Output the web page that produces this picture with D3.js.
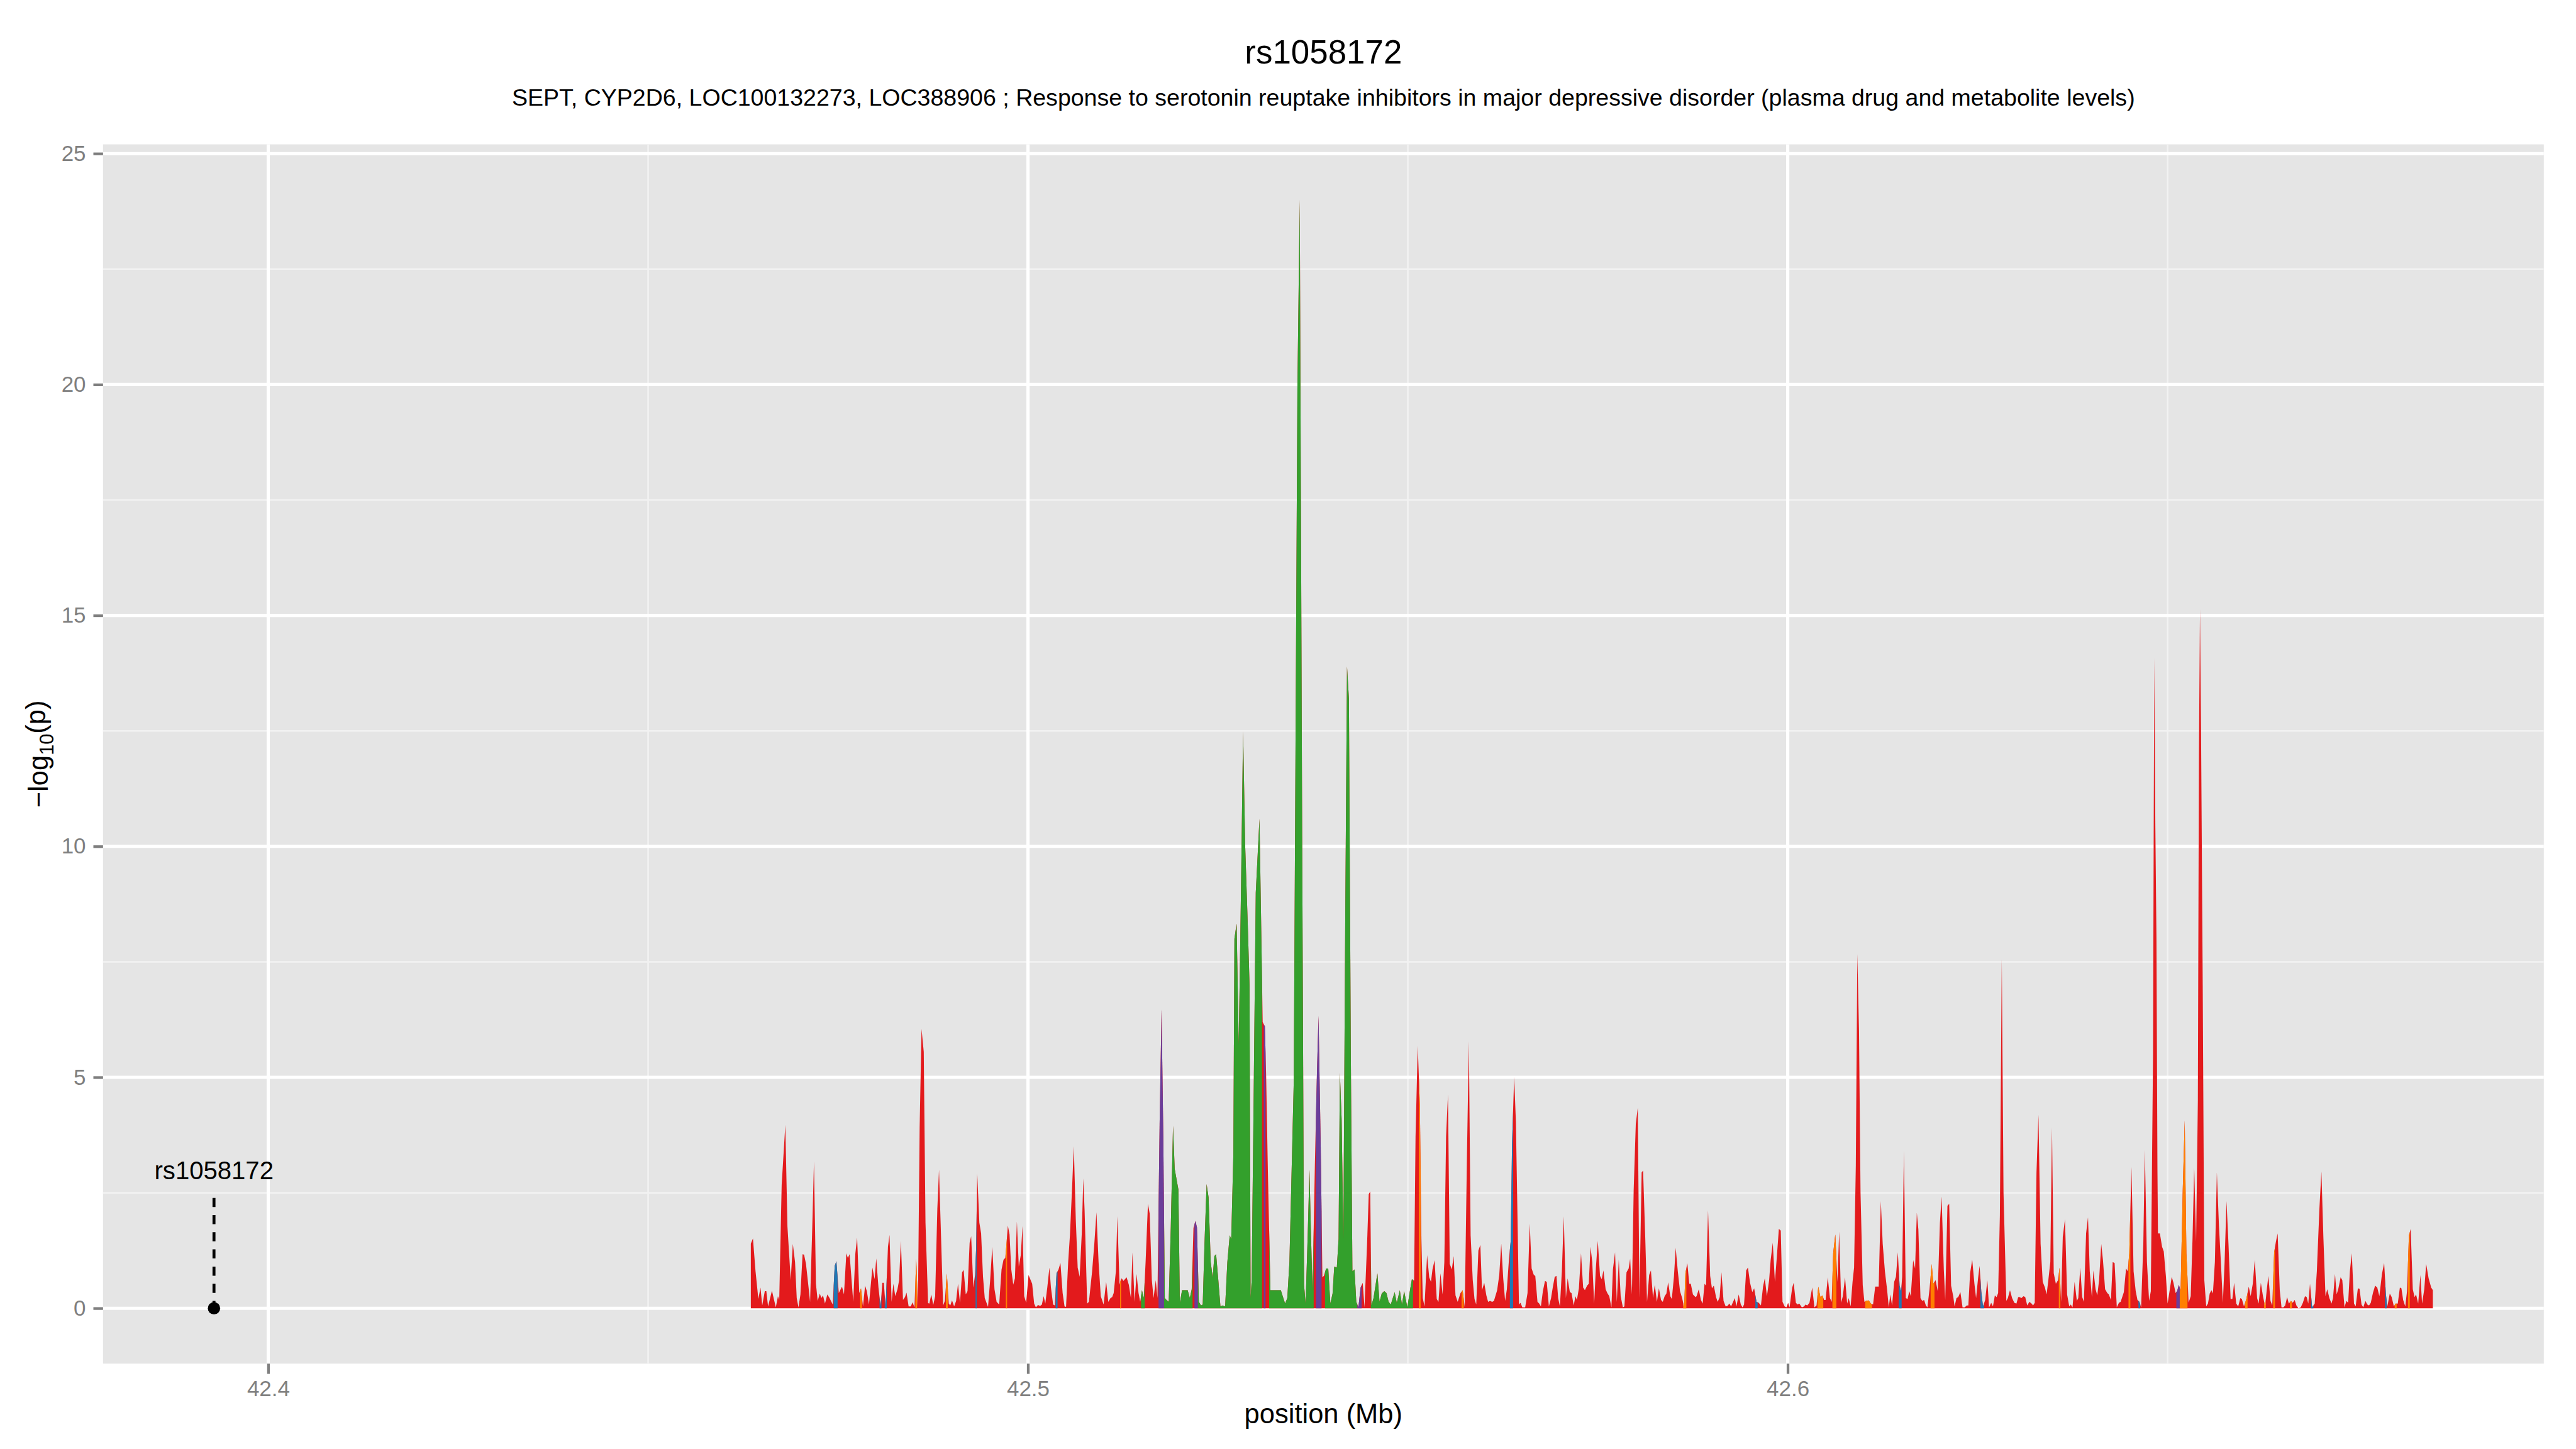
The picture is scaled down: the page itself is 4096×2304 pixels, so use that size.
<!DOCTYPE html>
<html><head><meta charset="utf-8">
<script src="https://cdn.jsdelivr.net/npm/d3@7"></script>
<style>html,body{margin:0;padding:0;background:#fff;}svg{display:block;}</style>
</head><body>
<script>
// ---------- DATA (position in Mb, -log10 p) ----------
const region1 = [[42.46352,1.40],[42.46380,1.51],[42.46414,0.80],[42.46451,0.20],[42.46479,0.45],[42.46502,0.06],[42.46536,0.37],[42.46556,0.37],[42.46579,0.04],[42.46630,0.38],[42.46658,0.18],[42.46681,0.02],[42.46709,0.26],[42.46726,0.18],[42.46758,2.67],[42.46806,3.97],[42.46834,1.77],[42.46877,0.61],[42.46905,1.39],[42.46934,1.00],[42.46956,0.22],[42.46979,0.02],[42.47005,0.30],[42.47033,1.17],[42.47053,1.16],[42.47078,0.96],[42.47112,0.45],[42.47132,0.14],[42.47161,1.77],[42.47183,3.18],[42.47209,0.53],[42.47232,0.16],[42.47260,0.32],[42.47280,0.22],[42.47302,0.28],[42.47328,0.10],[42.47359,0.30],[42.47388,0.22],[42.47430,0.08],[42.47456,0.92],[42.47478,1.02],[42.47510,0.33],[42.47552,0.47],[42.47578,0.30],[42.47609,1.19],[42.47629,1.09],[42.47652,1.17],[42.47700,0.14],[42.47728,1.19],[42.47751,1.53],[42.47779,0.33],[42.47802,0.43],[42.47828,0.04],[42.47856,0.49],[42.47879,0.37],[42.47907,0.08],[42.47952,0.88],[42.47981,0.63],[42.48003,1.08],[42.48032,0.45],[42.48060,0.04],[42.48083,0.55],[42.48103,0.55],[42.48126,0.02],[42.48157,1.33],[42.48177,1.59],[42.48205,0.14],[42.48228,0.53],[42.48253,0.26],[42.48282,0.41],[42.48304,0.61],[42.48327,1.46],[42.48355,0.18],[42.48381,0.24],[42.48401,0.34],[42.48429,0.04],[42.48458,0.04],[42.48480,0.13],[42.48506,0.02],[42.48529,1.07],[42.48551,0.02],[42.48574,3.91],[42.48599,6.05],[42.48628,5.55],[42.48651,1.85],[42.48685,0.11],[42.48702,0.10],[42.48727,0.30],[42.48753,0.07],[42.48778,0.26],[42.48807,2.16],[42.48829,3.00],[42.48855,1.58],[42.48883,0.06],[42.48906,0.16],[42.48932,0.75],[42.48957,0.10],[42.48977,0.06],[42.49000,0.17],[42.49028,0.04],[42.49054,0.16],[42.49079,0.53],[42.49105,0.12],[42.49133,0.78],[42.49153,0.83],[42.49181,0.30],[42.49204,0.37],[42.49232,1.42],[42.49252,1.56],[42.49281,0.45],[42.49303,0.72],[42.49317,1.27],[42.49332,2.92],[42.49360,1.85],[42.49383,1.62],[42.49408,0.68],[42.49431,0.22],[42.49474,0.03],[42.49502,0.61],[42.49530,1.33],[42.49559,0.41],[42.49587,0.14],[42.49621,0.08],[42.49652,0.84],[42.49678,1.05],[42.49701,1.09],[42.49715,1.35],[42.49735,1.79],[42.49757,1.60],[42.49780,0.84],[42.49806,0.51],[42.49828,0.65],[42.49854,1.88],[42.49879,0.90],[42.49905,1.15],[42.49928,1.78],[42.49950,0.26],[42.49976,0.12],[42.50007,0.72],[42.50030,0.63],[42.50055,0.53],[42.50081,0.10],[42.50104,0.02],[42.50132,0.07],[42.50160,0.05],[42.50183,0.08],[42.50206,0.26],[42.50228,0.10],[42.50254,0.45],[42.50282,0.88],[42.50302,0.45],[42.50331,0.08],[42.50353,0.06],[42.50376,0.76],[42.50402,0.84],[42.50427,0.98],[42.50456,0.33],[42.50481,0.04],[42.50501,0.03],[42.50529,1.00],[42.50552,1.58],[42.50580,2.59],[42.50603,3.51],[42.50629,1.93],[42.50654,0.88],[42.50680,0.68],[42.50708,1.62],[42.50728,2.81]];

const region2 = [[42.50745,2.12],[42.50779,0.10],[42.50802,0.14],[42.50844,0.80],[42.50873,1.39],[42.50901,2.08],[42.50929,1.00],[42.50958,0.26],[42.50995,0.08],[42.51029,0.57],[42.51057,0.14],[42.51086,0.22],[42.51108,0.24],[42.51128,0.33],[42.51157,0.80],[42.51176,1.99],[42.51205,0.51],[42.51219,0.60],[42.51233,0.65],[42.51256,0.59],[42.51298,0.67],[42.51327,0.51],[42.51355,0.22],[42.51375,1.21],[42.51403,0.14],[42.51429,0.74],[42.51455,0.33],[42.51477,0.14],[42.51500,0.39],[42.51525,0.22],[42.51548,1.00],[42.51579,2.26],[42.51602,2.05],[42.51630,0.61],[42.51653,0.22],[42.51682,0.61],[42.51704,0.22],[42.51733,4.03],[42.51758,6.47],[42.51781,3.72],[42.51801,0.22],[42.51823,0.18],[42.51852,0.14],[42.51880,1.77],[42.51909,3.95],[42.51931,3.02],[42.51960,2.75],[42.51980,2.57],[42.51999,0.12],[42.52028,0.39],[42.52102,0.39],[42.52130,0.22],[42.52155,0.41],[42.52178,1.74],[42.52204,1.89],[42.52224,1.75],[42.52249,0.14],[42.52278,0.06],[42.52300,0.08],[42.52323,1.39],[42.52351,2.69],[42.52377,2.40],[42.52405,1.00],[42.52431,0.67],[42.52453,1.13],[42.52476,1.17],[42.52505,0.61],[42.52533,0.04],[42.52561,0.06],[42.52595,0.04],[42.52624,1.00],[42.52655,1.58],[42.52675,1.50],[42.52703,3.33],[42.52717,8.00],[42.52746,8.33],[42.52774,5.70],[42.52803,9.00],[42.52831,12.49],[42.52859,10.00],[42.52893,8.30],[42.52916,7.00],[42.52930,0.22],[42.52944,0.61],[42.52973,5.00],[42.52998,9.00],[42.53047,10.60],[42.53072,8.00],[42.53089,6.20],[42.53118,6.10],[42.53135,5.00],[42.53157,3.00],[42.53191,0.39],[42.53228,0.39],[42.53328,0.39],[42.53384,0.10],[42.53413,0.22],[42.53441,1.00],[42.53498,4.90],[42.53546,19.90],[42.53577,24.00],[42.53609,10.20],[42.53634,0.50],[42.53654,0.10],[42.53682,1.60],[42.53705,3.00],[42.53725,1.58],[42.53745,0.37],[42.53776,3.10],[42.53802,5.00],[42.53824,6.33],[42.53853,3.50],[42.53875,0.67],[42.53895,0.70],[42.53924,0.86],[42.53952,0.86],[42.53980,0.10],[42.54009,0.32],[42.54031,0.90],[42.54065,0.88],[42.54088,1.50],[42.54105,5.10],[42.54128,4.10],[42.54151,1.50],[42.54176,8.50],[42.54199,13.90],[42.54224,13.20],[42.54250,5.30],[42.54270,0.80],[42.54298,0.84],[42.54321,0.14],[42.54349,0.02],[42.54378,0.45],[42.54406,0.55],[42.54429,0.02],[42.54463,1.39],[42.54485,2.47],[42.54505,2.53],[42.54520,0.06],[42.54548,0.22],[42.54599,0.76],[42.54627,0.14],[42.54656,0.32],[42.54690,0.37],[42.54718,0.33],[42.54747,0.14],[42.54775,0.08],[42.54826,0.35],[42.54854,0.12],[42.54894,0.39],[42.54922,0.08],[42.54951,0.37],[42.54993,0.02],[42.55030,0.41],[42.55053,0.63],[42.55082,0.60],[42.55101,3.72],[42.55130,5.68],[42.55158,4.40],[42.55178,1.50]];

const region3 = [[42.55196,0.22],[42.55219,0.04],[42.55253,1.15],[42.55281,0.67],[42.55304,0.57],[42.55324,0.84],[42.55352,1.04],[42.55380,0.20],[42.55403,0.14],[42.55429,0.76],[42.55457,0.30],[42.55480,1.00],[42.55503,3.72],[42.55528,4.63],[42.55551,0.96],[42.55579,0.84],[42.55602,1.13],[42.55627,0.28],[42.55656,0.14],[42.55693,0.33],[42.55721,0.39],[42.55749,0.02],[42.55778,3.33],[42.55803,5.78],[42.55826,1.58],[42.55854,0.61],[42.55877,0.20],[42.55900,0.08],[42.55928,1.25],[42.55954,1.37],[42.55976,0.39],[42.56005,0.55],[42.56033,0.28],[42.56056,0.14],[42.56081,0.16],[42.56110,0.14],[42.56133,0.16],[42.56175,0.39],[42.56203,0.72],[42.56229,1.40],[42.56255,0.65],[42.56280,0.16],[42.56303,0.41],[42.56331,1.07],[42.56354,1.46],[42.56371,3.54],[42.56399,5.01],[42.56422,4.03],[42.56445,1.77],[42.56462,0.08],[42.56482,0.12],[42.56507,0.02],[42.56544,0.02],[42.56575,0.33],[42.56604,1.83],[42.56629,0.86],[42.56658,0.72],[42.56677,0.70],[42.56706,0.14],[42.56729,0.10],[42.56751,0.04],[42.56777,0.37],[42.56805,0.59],[42.56828,0.57],[42.56856,0.04],[42.56885,0.22],[42.56907,0.45],[42.56933,0.68],[42.56956,0.70],[42.56978,0.22],[42.57001,0.04],[42.57027,0.80],[42.57052,1.99],[42.57080,0.22],[42.57103,0.65],[42.57132,0.35],[42.57154,0.33],[42.57183,0.06],[42.57205,0.26],[42.57225,0.18],[42.57251,0.43],[42.57279,1.19],[42.57307,0.45],[42.57330,0.39],[42.57359,0.49],[42.57381,0.53],[42.57404,1.33],[42.57427,1.00],[42.57452,0.10],[42.57475,0.88],[42.57500,1.46],[42.57529,0.70],[42.57552,0.63],[42.57574,0.82],[42.57603,0.41],[42.57625,0.33],[42.57651,0.26],[42.57679,0.02],[42.57699,0.84],[42.57727,1.21],[42.57750,0.14],[42.57776,1.05],[42.57801,0.26],[42.57830,0.02],[42.57850,0.04],[42.57878,0.78],[42.57906,0.86],[42.57926,1.07],[42.57949,0.30],[42.57972,2.55],[42.58000,3.99],[42.58026,4.34],[42.58048,0.22],[42.58077,2.94],[42.58096,2.98],[42.58125,1.50],[42.58148,0.14],[42.58176,0.72],[42.58199,0.82],[42.58227,0.22],[42.58250,0.51],[42.58278,0.14],[42.58304,0.43],[42.58332,0.18],[42.58355,0.14],[42.58380,0.26],[42.58403,0.32],[42.58426,0.56],[42.58454,0.26],[42.58474,0.20],[42.58502,0.68],[42.58525,1.31],[42.58553,0.80],[42.58582,0.37],[42.58610,0.22],[42.58636,0.02],[42.58653,0.76],[42.58678,0.98],[42.58704,0.53],[42.58724,0.53],[42.58752,0.30],[42.58786,0.24],[42.58800,0.26],[42.58829,0.41],[42.58857,0.18],[42.58880,0.10],[42.58905,0.53],[42.58925,0.49],[42.58951,2.12],[42.58979,0.70],[42.59002,0.43],[42.59027,0.49],[42.59056,0.24],[42.59078,0.14],[42.59104,0.24],[42.59127,0.78],[42.59155,0.16],[42.59183,0.04],[42.59206,0.05],[42.59232,0.10],[42.59254,0.04],[42.59303,0.22],[42.59325,0.04],[42.59354,0.30],[42.59382,0.08],[42.59405,0.02],[42.59425,0.08],[42.59453,0.82],[42.59476,0.88],[42.59504,0.55],[42.59533,0.35],[42.59558,0.43],[42.59589,0.14],[42.59618,0.12],[42.59637,0.08]];

const region4 = [[42.59647,0.06],[42.59675,0.47],[42.59698,0.65],[42.59726,0.26],[42.59755,0.61],[42.59775,1.04],[42.59803,1.42],[42.59831,0.57],[42.59860,1.19],[42.59883,1.72],[42.59908,1.68],[42.59931,0.14],[42.59959,0.04],[42.59982,0.02],[42.60005,0.12],[42.60024,0.02],[42.60059,0.45],[42.60078,0.55],[42.60107,0.12],[42.60129,0.08],[42.60152,0.10],[42.60186,0.02],[42.60215,0.04],[42.60234,0.08],[42.60257,0.06],[42.60286,0.12],[42.60322,0.45],[42.60351,0.02],[42.60379,0.06],[42.60402,0.47],[42.60430,0.24],[42.60456,0.28],[42.60479,0.18],[42.60498,0.18],[42.60527,0.67],[42.60555,0.22],[42.60578,0.14],[42.60598,1.19],[42.60626,1.60],[42.60654,0.57],[42.60677,1.66],[42.60703,0.12],[42.60725,0.26],[42.60754,0.67],[42.60782,0.10],[42.60802,0.22],[42.60828,0.04],[42.60853,0.57],[42.60873,0.88],[42.60896,3.10],[42.60916,7.67],[42.60938,6.00],[42.60958,2.50],[42.60987,0.50],[42.61009,0.14],[42.61029,0.16],[42.61066,0.17],[42.61094,0.10],[42.61123,0.08],[42.61151,0.47],[42.61197,0.47],[42.61225,2.32],[42.61250,1.39],[42.61279,0.80],[42.61307,0.41],[42.61330,0.02],[42.61350,0.30],[42.61373,0.06],[42.61401,0.57],[42.61424,0.68],[42.61449,1.21],[42.61472,0.49],[42.61492,0.37],[42.61506,0.68],[42.61529,3.41],[42.61554,0.22],[42.61577,0.20],[42.61600,0.37],[42.61619,0.26],[42.61651,1.04],[42.61676,0.86],[42.61699,2.07],[42.61719,1.71],[42.61747,0.22],[42.61770,0.16],[42.61795,0.18],[42.61818,0.06],[42.61838,0.02],[42.61866,0.41],[42.61895,0.96],[42.61917,0.53],[42.61946,0.61],[42.61974,0.37],[42.62003,1.85],[42.62025,2.42],[42.62054,0.84],[42.62073,0.18],[42.62102,2.22],[42.62125,2.26],[42.62150,0.49],[42.62178,0.26],[42.62196,0.04],[42.62221,0.22],[42.62244,0.24],[42.62272,0.35],[42.62301,0.02],[42.62329,0.02],[42.62357,0.06],[42.62377,0.06],[42.62400,0.76],[42.62428,1.05],[42.62457,0.53],[42.62479,0.22],[42.62505,0.65],[42.62525,0.92],[42.62547,0.37],[42.62570,0.04],[42.62599,0.18],[42.62627,0.61],[42.62650,0.02],[42.62678,0.12],[42.62701,0.04],[42.62726,0.28],[42.62749,0.24],[42.62769,0.33],[42.62792,2.00],[42.62817,7.56],[42.62840,2.50],[42.62877,0.16],[42.62897,0.22],[42.62925,0.39],[42.62953,0.22],[42.62982,0.12],[42.63010,0.10],[42.63033,0.24],[42.63053,0.24],[42.63075,0.22],[42.63104,0.26],[42.63126,0.24],[42.63152,0.06],[42.63180,0.14],[42.63209,0.10],[42.63229,0.06],[42.63251,0.12],[42.63274,2.94],[42.63300,4.19],[42.63328,1.39],[42.63356,0.57],[42.63385,0.45],[42.63407,0.30],[42.63430,0.61],[42.63456,1.00],[42.63478,3.91],[42.63501,0.76],[42.63529,0.53],[42.63558,0.61],[42.63578,0.88],[42.63598,0.14],[42.63620,1.54],[42.63649,1.93],[42.63677,0.30],[42.63705,0.04],[42.63725,0.08],[42.63748,0.02],[42.63776,0.57],[42.63805,0.16],[42.63824,0.22],[42.63850,0.88],[42.63876,0.24],[42.63898,0.14],[42.63927,1.62],[42.63952,1.97],[42.63975,0.80],[42.64003,0.24],[42.64023,0.82],[42.64052,0.41],[42.64074,0.28]];

const region5 = [[42.64098,0.61],[42.64126,1.39],[42.64149,1.04],[42.64177,0.41],[42.64206,0.33],[42.64226,0.30],[42.64254,0.18],[42.64277,1.00],[42.64302,0.98],[42.64331,0.02],[42.64359,0.12],[42.64382,0.14],[42.64424,0.35],[42.64453,0.86],[42.64475,0.80],[42.64495,1.19],[42.64524,3.06],[42.64552,0.80],[42.64580,0.37],[42.64603,0.18],[42.64629,0.14],[42.64651,0.02],[42.64680,1.39],[42.64700,3.43],[42.64728,1.00],[42.64756,0.16],[42.64779,0.37],[42.64808,5.50],[42.64818,11.00],[42.64825,14.08],[42.64838,10.50],[42.64853,8.00],[42.64866,3.00],[42.64873,1.62],[42.64898,1.62],[42.64927,1.33],[42.64949,1.23],[42.64978,0.68],[42.65000,0.10],[42.65029,0.41],[42.65054,0.68],[42.65077,0.55],[42.65105,0.33],[42.65125,0.37],[42.65148,0.51],[42.65171,0.37],[42.65199,2.55],[42.65225,4.07],[42.65247,1.19],[42.65276,0.12],[42.65304,0.26],[42.65327,1.46],[42.65350,3.04],[42.65375,1.44],[42.65398,4.50],[42.65412,12.00],[42.65426,15.13],[42.65440,12.50],[42.65462,7.00],[42.65483,0.61],[42.65508,0.04],[42.65531,0.10],[42.65554,0.32],[42.65577,0.39],[42.65596,0.32],[42.65622,1.00],[42.65648,2.94],[42.65676,1.77],[42.65701,1.00],[42.65727,0.12],[42.65750,1.00],[42.65775,2.32],[42.65801,1.39],[42.65829,0.20],[42.65852,0.20],[42.65875,0.55],[42.65903,0.10],[42.65929,0.04],[42.65957,0.22],[42.65977,0.20],[42.66005,0.04],[42.66036,0.20],[42.66068,0.47],[42.66093,0.26],[42.66121,0.53],[42.66147,1.05],[42.66178,0.22],[42.66198,0.10],[42.66227,0.55],[42.66255,0.26],[42.66283,0.04],[42.66303,0.37],[42.66326,0.70],[42.66354,0.16],[42.66377,0.06],[42.66402,1.21],[42.66425,1.44],[42.66448,1.62],[42.66476,0.39],[42.66499,0.02],[42.66524,0.02],[42.66547,0.06],[42.66573,0.24],[42.66595,0.10],[42.66624,0.16],[42.66647,0.12],[42.66672,0.18],[42.66695,0.06],[42.66723,0.00],[42.66752,0.02],[42.66780,0.12],[42.66808,0.26],[42.66831,0.24],[42.66851,0.10],[42.66874,0.53],[42.66902,0.02],[42.66936,0.10],[42.66964,0.80],[42.66998,2.16],[42.67024,2.96],[42.67050,1.54],[42.67078,0.26],[42.67101,0.41],[42.67129,0.22],[42.67157,0.10],[42.67177,0.22],[42.67203,0.74],[42.67225,0.30],[42.67248,0.43],[42.67277,0.67],[42.67299,0.61],[42.67328,0.02],[42.67353,0.16],[42.67376,0.12],[42.67399,0.80],[42.67424,1.19],[42.67453,0.10],[42.67475,0.04],[42.67504,0.43],[42.67526,0.42],[42.67552,0.08],[42.67575,0.02],[42.67603,0.16],[42.67628,0.08],[42.67651,0.06],[42.67674,0.12],[42.67702,0.33],[42.67731,0.49],[42.67759,0.45],[42.67787,0.26],[42.67821,0.74],[42.67850,0.98],[42.67873,0.30],[42.67892,0.04],[42.67924,0.32],[42.67949,0.24],[42.67978,0.04],[42.68000,0.10],[42.68029,0.10],[42.68057,0.45],[42.68077,0.43],[42.68100,0.18],[42.68128,0.04],[42.68151,0.37],[42.68176,1.58],[42.68199,1.72],[42.68227,0.41],[42.68250,0.24],[42.68270,0.30],[42.68298,0.10],[42.68327,0.72],[42.68349,0.10],[42.68378,0.41],[42.68403,0.96],[42.68435,0.65],[42.68469,0.45],[42.68491,0.39]];

// LD-class spans (Mb, inclusive); everything else is the base (red) class
const greenSpans  = [[42.51500,42.51525],[42.51801,42.52155],[42.52249,42.53072],[42.53191,42.53745],[42.53924,42.54321],[42.54520,42.55053]];
const purpleSpans = [[42.51733,42.51781],[42.52204,42.52224],[42.53118,42.53118],[42.53802,42.53853],[42.54349,42.54378],[42.65125,42.65148]];
const blueSpans   = [[42.47456,42.47478],[42.48060,42.48060],[42.48126,42.48126],[42.49317,42.49317],[42.50376,42.50376],[42.56354,42.56371],[42.59589,42.59589],[42.61472,42.61492],[42.62547,42.62570],[42.64629,42.64629],[42.66902,42.66902],[42.67873,42.67873]];
const orangeSpans = [[42.47802,42.47802],[42.48529,42.48529],[42.48932,42.48932],[42.49715,42.49715],[42.51219,42.51219],[42.55158,42.55158],[42.55721,42.55721],[42.58636,42.58653],[42.60402,42.60456],[42.60598,42.60626],[42.61029,42.61094],[42.61895,42.61917],[42.63578,42.63578],[42.64495,42.64495],[42.65171,42.65247],[42.66036,42.66036],[42.66283,42.66283],[42.66402,42.66402],[42.66624,42.66624],[42.68000,42.68000],[42.68176,42.68176]];

const classColors = {red:"#E31A1C", green:"#33A02C", purple:"#6A3D9A", blue:"#1F78B4", orange:"#FF7F00"};

const yTicks = [0,5,10,15,20,25];
const yMinorTicks = [2.5,7.5,12.5,17.5,22.5];
const xTicks = [42.4,42.5,42.6];
const xMinorTicks = [42.45,42.55,42.65];

const leadSnp = {name:"rs1058172", pos:42.39286, logp:0, lineTop:2.39, labelY:2.79};
const titleText = "rs1058172";
const subtitleText = "SEPT, CYP2D6, LOC100132273, LOC388906 ; Response to serotonin reuptake inhibitors in major depressive disorder (plasma drug and metabolite levels)";
const xTitle = "position (Mb)";

// ---------- LAYOUT (reference pixel space 4800x2700, scaled to window) ----------
const FONT = "'Liberation Sans', Arial, Helvetica, sans-serif";
const S = 4096/4800;
const panel = {left:192, right:4740, top:269, bottom:2541};

const svg = d3.select("body").append("svg").attr("width",4096).attr("height",2304);
const g = svg.append("g").attr("transform",`scale(${S})`);
g.append("rect").attr("x",0).attr("y",0).attr("width",4800).attr("height",2700).attr("fill","#fff");

function inSpans(p, spans){ return spans.some(([a,b]) => p >= a-1e-7 && p <= b+1e-7); }
function classOf(p){
  if (inSpans(p, greenSpans)) return "green";
  if (inSpans(p, purpleSpans)) return "purple";
  if (inSpans(p, blueSpans)) return "blue";
  if (inSpans(p, orangeSpans)) return "orange";
  return "red";
}
const signal = region1.concat(region2, region3, region4, region5)
  .map(([pos,logp]) => ({pos, logp, cls: classOf(pos)}));

const xExt = d3.extent([leadSnp.pos].concat(signal.map(d=>d.pos)));
const xPad = (xExt[1]-xExt[0])*0.05;
const x = d3.scaleLinear().domain([xExt[0]-xPad, xExt[1]+xPad]).range([panel.left, panel.right]);
const yMax = d3.max(signal, d=>d.logp);
const y = d3.scaleLinear().domain([-yMax*0.05, yMax*1.05]).range([panel.bottom, panel.top]);

// panel background & grid
g.append("rect").attr("x",panel.left).attr("y",panel.top)
  .attr("width",panel.right-panel.left).attr("height",panel.bottom-panel.top).attr("fill","#E5E5E5");
const grid = g.append("g");
grid.selectAll(".ymin").data(yMinorTicks).enter().append("line")
  .attr("x1",panel.left).attr("x2",panel.right).attr("y1",d=>y(d)).attr("y2",d=>y(d))
  .attr("stroke","#F2F2F2").attr("stroke-width",3);
grid.selectAll(".xmin").data(xMinorTicks).enter().append("line")
  .attr("y1",panel.top).attr("y2",panel.bottom).attr("x1",d=>x(d)).attr("x2",d=>x(d))
  .attr("stroke","#F2F2F2").attr("stroke-width",3);
grid.selectAll(".ymaj").data(yTicks).enter().append("line")
  .attr("x1",panel.left).attr("x2",panel.right).attr("y1",d=>y(d)).attr("y2",d=>y(d))
  .attr("stroke","#FFFFFF").attr("stroke-width",6);
grid.selectAll(".xmaj").data(xTicks).enter().append("line")
  .attr("y1",panel.top).attr("y2",panel.bottom).attr("x1",d=>x(d)).attr("x2",d=>x(d))
  .attr("stroke","#FFFFFF").attr("stroke-width",6);

// areas
const area = d3.area().x(d=>x(d.pos)).y0(y(0)).y1(d=>y(d.logp));
const marks = g.append("g");
marks.append("path").datum(signal).attr("d",area).attr("fill",classColors.red);

// overlay runs of non-base classes, each point owning half of its neighbouring segments
let i = 0;
while (i < signal.length){
  const c = signal[i].cls;
  if (c === "red"){ i++; continue; }
  let j = i;
  while (j+1 < signal.length && signal[j+1].cls === c) j++;
  const run = [];
  if (i > 0){
    const a = signal[i-1], b = signal[i];
    run.push({pos:(a.pos+b.pos)/2, logp:(a.logp+b.logp)/2});
  }
  for (let k=i;k<=j;k++) run.push(signal[k]);
  if (j+1 < signal.length){
    const a = signal[j], b = signal[j+1];
    run.push({pos:(a.pos+b.pos)/2, logp:(a.logp+b.logp)/2});
  }
  marks.append("path").datum(run).attr("d",area).attr("fill",classColors[c]);
  i = j+1;
}

// lead SNP annotation
const ann = g.append("g");
ann.append("line").attr("x1",x(leadSnp.pos)).attr("x2",x(leadSnp.pos))
  .attr("y1",y(leadSnp.lineTop)).attr("y2",y(leadSnp.logp))
  .attr("stroke","#000").attr("stroke-width",5.5).attr("stroke-dasharray","17,15");
ann.append("circle").attr("cx",x(leadSnp.pos)).attr("cy",y(leadSnp.logp)).attr("r",11.5).attr("fill","#000");
ann.append("text").attr("x",x(leadSnp.pos)).attr("y",y(leadSnp.labelY))
  .attr("text-anchor","middle").style("font-family",FONT).style("font-size","47px").attr("fill","#000")
  .text(leadSnp.name);

// axes
const yAxis = g.append("g").attr("transform",`translate(${panel.left},0)`)
  .call(d3.axisLeft(y).tickValues(yTicks).tickSize(18).tickPadding(14).tickFormat(d3.format("d")));
const xAxis = g.append("g").attr("transform",`translate(0,${panel.bottom})`)
  .call(d3.axisBottom(x).tickValues(xTicks).tickSize(19).tickPadding(13).tickFormat(d3.format(".1f")));
[yAxis,xAxis].forEach(ax=>{
  ax.select(".domain").remove();
  ax.selectAll(".tick line").attr("stroke","#7F7F7F").attr("stroke-width",5);
  ax.selectAll(".tick text").attr("fill","#7F7F7F").style("font-size","41px").style("font-family",FONT);
});

// titles
const cx = (panel.left+panel.right)/2;
g.append("text").attr("x",cx).attr("y",118).attr("text-anchor","middle")
  .style("font-family",FONT).style("font-size","62px").attr("fill","#000").text(titleText);
g.append("text").attr("x",cx).attr("y",197).attr("text-anchor","middle")
  .style("font-family",FONT).style("font-size","44px").attr("fill","#000").text(subtitleText);
g.append("text").attr("x",cx).attr("y",2652).attr("text-anchor","middle")
  .style("font-family",FONT).style("font-size","51px").attr("fill","#000").text(xTitle);
const yt = g.append("text").attr("transform",`translate(89,${(panel.top+panel.bottom)/2}) rotate(-90)`)
  .attr("text-anchor","middle").style("font-family",FONT).style("font-size","51px").attr("fill","#000");
yt.append("tspan").text("\u2212log");
yt.append("tspan").attr("dy","0.3em").style("font-size","36px").text("10");
yt.append("tspan").attr("dy","-0.3em").text("(p)");
</script>
</body></html>
